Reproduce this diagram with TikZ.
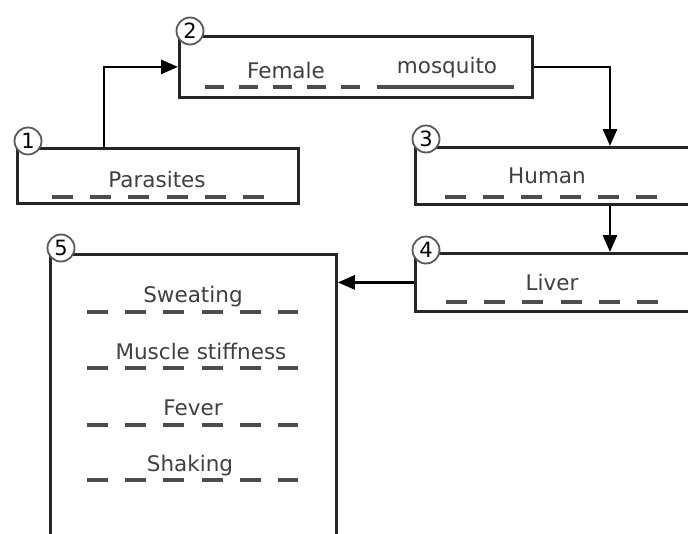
\documentclass[tikz,border=0pt]{standalone}
\usepackage{fontspec}
\setmainfont{DejaVu Sans}
\usetikzlibrary{arrows.meta}
\begin{document}
\begin{tikzpicture}[x=1pt, y=-1pt,
    box/.style={draw=black!85, line width=2.8pt, fill=white, anchor=north west, inner sep=0pt},
    num/.style={circle, draw=black!65, line width=1.8pt, fill=white, minimum size=27pt, inner sep=0pt, font=\fontsize{21}{21}\selectfont},
    lbl/.style={anchor=base, text=black!75, font=\fontsize{21.5}{24}\selectfont},
    rule/.style={gray!60!black, line width=3.6pt, dash pattern=on 21pt off 17.2pt},
    arr/.style={line width=2.8pt, -{Triangle[length=17pt,width=14pt]}}]
    \useasboundingbox (0,0) rectangle (688,533);
    \clip (0,0) rectangle (688,533);
    % boxes
    \node[box, minimum width=281pt, minimum height=55pt] (parasites) at (16,147) {};
    \node[box, minimum width=353pt, minimum height=61pt] (mosquito) at (178,35) {};
    \node[box, minimum width=300pt, minimum height=57pt] (human) at (414,146) {};
    \node[box, minimum width=300pt, minimum height=58pt] (liver) at (414,252) {};
    \node[box, minimum width=286pt, minimum height=300pt] (symptoms) at (49,253) {};
    % connectors
    \draw[arr] ([xshift=88pt]parasites.north west) |- (mosquito.west);
    \draw[arr] (mosquito.east) -| ([xshift=196pt]human.north west);
    \draw[arr] ([xshift=196pt]human.south west) -- ([xshift=196pt]liver.north west);
    \draw[arr] (liver.west) -- (liver.west -| symptoms.east);
    % step numbers
    \foreach \b/\k/\d in {parasites/1/6, mosquito/2/4, human/3/7, liver/4/2, symptoms/5/5}
        \node[num] (n\k) at ([shift={(12pt,\d pt)}]\b.north west) {\k};
    % labels
    \node[lbl] (tparasites) at (157,187) {Parasites};
    \node[lbl] (tfemale) at (286,78) {Female};
    \node[lbl] (tmosquito) at (447,73) {mosquito};
    \node[lbl] (thuman) at (547,183) {Human};
    \node[lbl] (tliver) at (552,290) {Liver};
    \foreach \t/\x/\y/\n in {Sweating/193/302/a, Muscle stiffness/201/359/b, Fever/193/415/c, Shaking/190/471/d}
        \node[lbl] (s\n) at (\x,\y) {\t};
    % dashed rules
    \draw[rule] (52,197) -- (265,197);
    \draw[rule, dash pattern=on 19pt off 15pt] (205,87) -- (361,87);
    \draw[gray!60!black, line width=3.6pt] (377,87) -- (514,87);
    \draw[rule] (445,197) -- (658,197);
    \draw[rule] (446,302) -- (659,302);
    \foreach \y in {312,368,425,480}
        \draw[rule] (87,\y) -- (298,\y);
\end{tikzpicture}
\end{document}
